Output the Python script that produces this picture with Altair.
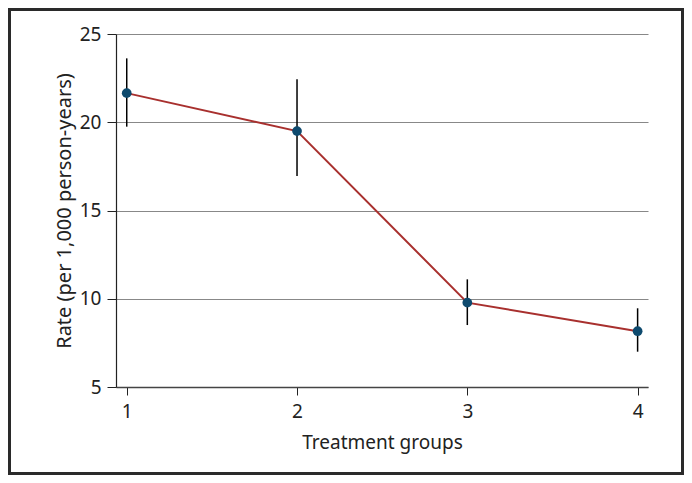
import altair as alt
import pandas as pd

groups = [1, 2, 3, 4]
rates = [21.65, 19.5, 9.78, 8.16]
lower = [19.75, 16.95, 8.51, 7.0]
upper = [23.62, 22.43, 11.1, 9.46]

df = pd.DataFrame({"group": groups, "rate": rates, "lo": lower, "hi": upper})

FONT = "Noto Sans"
W, H = 532, 353
PL, PT = 108, 26
TOTW, TOTH = 676, 467

xs = alt.Scale(domain=[0.937, 4.061], nice=False, zero=False)
ys = alt.Scale(domain=[5, 25], nice=False, zero=False)

xaxis = alt.Axis(values=[1, 2, 3, 4], format="d", grid=False, title="Treatment groups",
                 tickSize=8, tickColor="#222", domainColor="#444", domainWidth=1.5,
                 labelFontSize=19, titleFontSize=19, labelPadding=7, titlePadding=12,
                 labelColor="#222", titleColor="#222", labelFont=FONT, titleFont=FONT,
                 titleFontWeight="normal")
yaxis = alt.Axis(values=[5, 10, 15, 20, 25], grid=True, gridColor="#888", gridWidth=1.2,
                 title="Rate (per 1,000 person-years)",
                 tickSize=9, tickColor="#222", domainColor="#222", domainWidth=1.2,
                 labelFontSize=19, titleFontSize=20, labelPadding=6, titlePadding=5,
                 labelColor="#222", titleColor="#222", labelFont=FONT, titleFont=FONT,
                 titleFontWeight="normal")

base = alt.Chart(df)

errs = base.mark_rule(color="black", strokeWidth=1.5).encode(
    x=alt.X("group:Q", scale=xs, axis=xaxis),
    y=alt.Y("lo:Q", scale=ys, axis=yaxis),
    y2="hi:Q",
)
line = base.mark_line(color="#a8302e", strokeWidth=2).encode(
    x=alt.X("group:Q", scale=xs),
    y=alt.Y("rate:Q", scale=ys),
)
pts = base.mark_circle(color="#0e4a6e", opacity=1, size=95).encode(
    x=alt.X("group:Q", scale=xs),
    y=alt.Y("rate:Q", scale=ys),
)

frame = alt.Chart(pd.DataFrame({"a": [0]})).mark_rect(
    fill=None, stroke="#2a2a2a", strokeWidth=3
).encode(
    x=alt.value(-PL + 1.5), x2=alt.value(TOTW - PL - 1.5),
    y=alt.value(-PT + 1.5), y2=alt.value(TOTH - PT - 1.5),
)

chart = alt.layer(errs, line, pts, frame).properties(
    width=W, height=H,
    autosize=alt.AutoSizeParams(type="none"),
    padding={"left": PL, "top": PT, "right": TOTW - PL - W, "bottom": TOTH - PT - H},
    background="white",
).configure_view(stroke=None)

chart.save("out.html", embed_options={"renderer": "svg", "actions": False})
